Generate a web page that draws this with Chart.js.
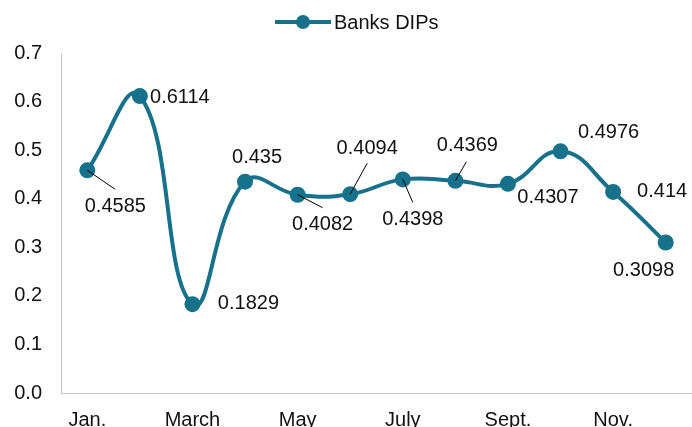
<!DOCTYPE html>
<html>
<head>
<meta charset="utf-8">
<script src="https://cdn.jsdelivr.net/npm/chart.js@4.4.0/dist/chart.umd.min.js"></script>
<style>
  html, body { margin: 0; padding: 0; background: #ffffff; }
  #wrap { width: 692px; height: 427px; position: relative; }
</style>
</head>
<body>
<div id="wrap"><canvas id="chart"></canvas></div>
<script>
// Monthly series
const months = ["January", "February", "March", "April", "May", "June",
                "July", "August", "September", "October", "November", "December"];
const tickLabels = ["Jan.", "", "March", "", "May", "", "July", "", "Sept.", "", "Nov.", ""];
const seriesName = "Banks DIPs";
const banksDips = [0.4585, 0.6114, 0.1829, 0.435, 0.4082, 0.4094,
                   0.4398, 0.4369, 0.4307, 0.4976, 0.414, 0.3098];
const yMin = 0, yMax = 0.7, yStep = 0.1;

const LINE_COLOR = "#17718a";
const TEXT_COLOR = "#111111";
const FONT = "'Liberation Sans', Arial, sans-serif";

// Value label placement: text centre offset from the point, optional leader end offset
const labelPlacement = [
  { dx: 28, dy: 36, leader: [28, 19] },
  { dx: 40, dy: 1 },
  { dx: 56, dy: -1 },
  { dx: 12, dy: -24 },
  { dx: 25, dy: 30, leader: [25, 13] },
  { dx: 17, dy: -46, leader: [17, -31] },
  { dx: 10, dy: 40, leader: [10, 23] },
  { dx: 12, dy: -35, leader: [11, -19] },
  { dx: 40, dy: 14 },
  { dx: 48, dy: -19 },
  { dx: 49, dy: 0 },
  { dx: -22, dy: 28 }
];

const valueLabels = {
  id: "valueLabels",
  afterDatasetsDraw(chart) {
    const ctx = chart.ctx;
    const meta = chart.getDatasetMeta(0);
    const values = chart.data.datasets[0].data;
    ctx.save();
    ctx.font = "20px " + FONT;
    ctx.fillStyle = TEXT_COLOR;
    ctx.textAlign = "center";
    ctx.textBaseline = "middle";
    meta.data.forEach((pt, i) => {
      const p = labelPlacement[i];
      if (p.leader) {
        ctx.beginPath();
        ctx.strokeStyle = "#000000";
        ctx.lineWidth = 1;
        ctx.moveTo(pt.x, pt.y);
        ctx.lineTo(pt.x + p.leader[0], pt.y + p.leader[1]);
        ctx.stroke();
      }
      ctx.fillText(String(values[i]), pt.x + p.dx, pt.y + p.dy);
    });
    ctx.restore();
  }
};

const lineLegend = {
  id: "lineLegend",
  afterDraw(chart) {
    const ctx = chart.ctx;
    const y = 22;
    ctx.save();
    ctx.strokeStyle = LINE_COLOR;
    ctx.lineWidth = 4;
    ctx.beginPath();
    ctx.moveTo(275, y);
    ctx.lineTo(331, y);
    ctx.stroke();
    ctx.fillStyle = LINE_COLOR;
    ctx.beginPath();
    ctx.arc(303, y, 7, 0, Math.PI * 2);
    ctx.fill();
    ctx.fillStyle = TEXT_COLOR;
    ctx.font = "20px " + FONT;
    ctx.textAlign = "left";
    ctx.textBaseline = "middle";
    ctx.fillText(chart.data.datasets[0].label, 334, y + 1);
    ctx.restore();
  }
};

new Chart(document.getElementById("chart"), {
  type: "line",
  data: {
    labels: months,
    datasets: [{
      label: seriesName,
      data: banksDips,
      borderColor: LINE_COLOR,
      backgroundColor: LINE_COLOR,
      borderWidth: 4,
      tension: 0.45,
      pointRadius: 8,
      pointHoverRadius: 8,
      pointBackgroundColor: LINE_COLOR,
      pointBorderWidth: 0,
      fill: false
    }]
  },
  options: {
    responsive: true,
    maintainAspectRatio: false,
    animation: false,
    events: [],
    layout: { autoPadding: false, padding: { top: 53, left: 0, right: 0, bottom: 0 } },
    plugins: {
      legend: { display: false },
      tooltip: { enabled: false }
    },
    scales: {
      x: {
        offset: true,
        grid: { display: false, drawTicks: false },
        border: { display: true, color: "#c4c4c4", width: 1 },
        ticks: {
          autoSkip: false,
          maxRotation: 0,
          padding: 15,
          color: TEXT_COLOR,
          font: { family: FONT, size: 20 },
          callback: (v, i) => tickLabels[i]
        },
        afterFit(scale) { scale.height = 34; }
      },
      y: {
        min: yMin,
        max: yMax,
        grid: { display: false, drawTicks: false },
        border: { display: true, color: "#c4c4c4", width: 1 },
        ticks: {
          stepSize: yStep,
          padding: 19,
          color: TEXT_COLOR,
          font: { family: FONT, size: 20 },
          callback: v => Number(v).toFixed(1)
        },
        afterFit(scale) { scale.width = 61; }
      }
    }
  },
  plugins: [valueLabels, lineLegend]
});
</script>
</body>
</html>
